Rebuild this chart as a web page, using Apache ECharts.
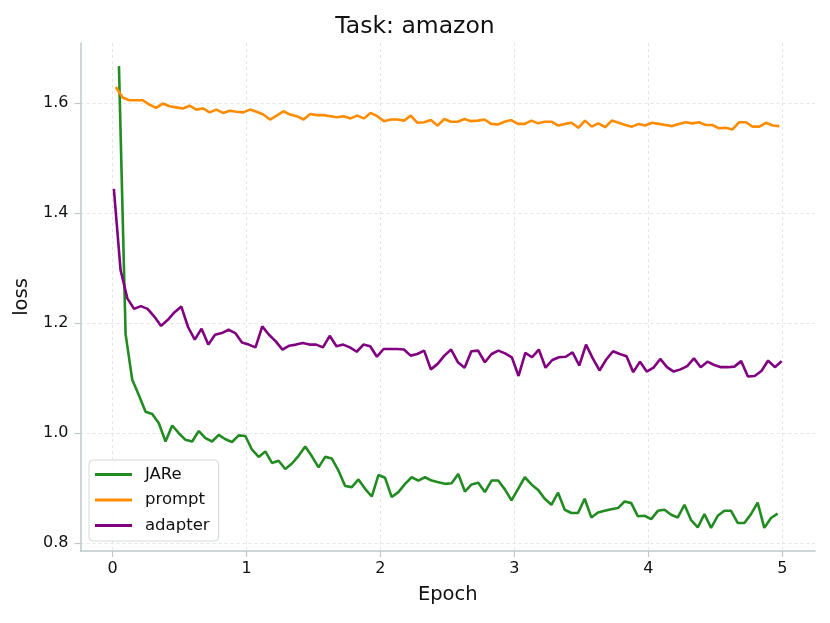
<!DOCTYPE html>
<html>
<head>
<meta charset="utf-8">
<script src="https://cdn.jsdelivr.net/npm/echarts@6/dist/echarts.min.js"></script>
<style>
html,body{margin:0;padding:0;background:#fff;}
#chart{width:830px;height:623px;}
</style>
</head>
<body>
<div id="chart"></div>
<script>
const seriesNames = ['JARe', 'prompt', 'adapter'];
const xTicks = [0, 1, 2, 3, 4, 5];
const yTicks = [0.8, 1.0, 1.2, 1.4, 1.6];

// epoch range covered by each logged series (first, last point)
const jareEpochs = [0.048, 4.965];
const promptEpochs = [0.025, 4.978];
const adapterEpochs = [0.010, 4.995];

const jareLoss = [1.667, 1.180, 1.097, 1.069, 1.039, 1.035, 1.018, 0.985, 1.014, 1.000,
  0.988, 0.985, 1.004, 0.991, 0.985, 0.997, 0.989, 0.984, 0.996, 0.995,
  0.970, 0.957, 0.967, 0.946, 0.950, 0.935, 0.945, 0.959, 0.976, 0.958,
  0.938, 0.957, 0.954, 0.932, 0.904, 0.902, 0.916, 0.899, 0.885, 0.924,
  0.919, 0.884, 0.893, 0.908, 0.920, 0.914, 0.920, 0.914, 0.911, 0.908,
  0.909, 0.926, 0.894, 0.907, 0.910, 0.893, 0.914, 0.914, 0.898, 0.878,
  0.899, 0.920, 0.907, 0.897, 0.881, 0.870, 0.892, 0.861, 0.855, 0.855,
  0.881, 0.847, 0.856, 0.859, 0.862, 0.864, 0.876, 0.873, 0.849, 0.850,
  0.844, 0.859, 0.861, 0.852, 0.847, 0.870, 0.842, 0.829, 0.853, 0.828,
  0.850, 0.859, 0.859, 0.837, 0.837, 0.853, 0.874, 0.828, 0.846, 0.854];

const promptLoss = [1.629, 1.610, 1.605, 1.605, 1.605, 1.597, 1.591, 1.599, 1.594, 1.592,
  1.590, 1.595, 1.588, 1.590, 1.583, 1.588, 1.582, 1.586, 1.584, 1.583,
  1.588, 1.584, 1.579, 1.570, 1.577, 1.585, 1.579, 1.576, 1.570, 1.580,
  1.578, 1.578, 1.576, 1.574, 1.576, 1.572, 1.577, 1.572, 1.582, 1.576,
  1.567, 1.570, 1.570, 1.568, 1.577, 1.564, 1.565, 1.569, 1.559, 1.571,
  1.566, 1.566, 1.571, 1.567, 1.568, 1.570, 1.562, 1.561, 1.566, 1.569,
  1.562, 1.562, 1.568, 1.563, 1.566, 1.566, 1.559, 1.562, 1.564, 1.555,
  1.568, 1.557, 1.563, 1.556, 1.568, 1.564, 1.560, 1.557, 1.562, 1.559,
  1.564, 1.562, 1.560, 1.558, 1.562, 1.565, 1.563, 1.565, 1.560, 1.560,
  1.554, 1.555, 1.552, 1.565, 1.565, 1.557, 1.557, 1.564, 1.559, 1.558];

const adapterLoss = [1.444, 1.296, 1.245, 1.226, 1.231, 1.226, 1.212, 1.195, 1.206, 1.220,
  1.230, 1.193, 1.170, 1.190, 1.161, 1.179, 1.182, 1.188, 1.182, 1.165,
  1.161, 1.156, 1.194, 1.179, 1.167, 1.152, 1.159, 1.161, 1.164, 1.161,
  1.161, 1.156, 1.177, 1.158, 1.161, 1.156, 1.148, 1.161, 1.158, 1.139,
  1.153, 1.153, 1.153, 1.152, 1.141, 1.144, 1.150, 1.116, 1.126, 1.141,
  1.152, 1.129, 1.119, 1.149, 1.150, 1.129, 1.144, 1.150, 1.145, 1.138,
  1.104, 1.146, 1.138, 1.152, 1.119, 1.133, 1.138, 1.139, 1.147, 1.123,
  1.161, 1.136, 1.114, 1.134, 1.149, 1.144, 1.140, 1.111, 1.130, 1.112,
  1.119, 1.135, 1.120, 1.112, 1.116, 1.122, 1.136, 1.120, 1.130, 1.124,
  1.120, 1.120, 1.121, 1.131, 1.103, 1.104, 1.113, 1.132, 1.120, 1.131];

function pairs(range, values) {
  const n = values.length;
  const step = (range[1] - range[0]) / (n - 1);
  return values.map((v, i) => [range[0] + i * step, v]);
}

const colors = ['#228b22', '#ff8c00', '#800080'];
const FONT = 'DejaVu Sans';
const spine = '#bfc7cb';
const gridColor = '#e1e6e8';

const chart = echarts.init(document.getElementById('chart'), null, {renderer: 'canvas'});
chart.setOption({
  animation: false,
  backgroundColor: '#ffffff',
  title: {
    text: 'Task: amazon',
    left: 'center',
    top: 10,
    textStyle: {fontFamily: FONT, fontSize: 23.5, fontWeight: 'normal', color: '#111'}
  },
  grid: {left: 80.5, right: 15, top: 43, bottom: 72, containLabel: false},
  legend: {
    orient: 'vertical',
    left: 89,
    top: 460,
    data: seriesNames,
    icon: 'rect',
    itemWidth: 37,
    itemHeight: 3,
    itemGap: 6.5,
    padding: [5, 9, 6, 6],
    backgroundColor: 'rgba(255,255,255,0.85)',
    borderColor: '#d4d8da',
    borderWidth: 1,
    borderRadius: 4,
    textStyle: {fontFamily: FONT, fontSize: 16.5, color: '#111', padding: [0, 0, 0, 8], lineHeight: 19}
  },
  xAxis: {
    type: 'value',
    min: -0.239,
    max: 5.244,
    name: 'Epoch',
    nameLocation: 'middle',
    nameGap: 34,
    nameTextStyle: {fontFamily: FONT, fontSize: 19.5, color: '#111'},
    axisLine: {show: true, onZero: false, lineStyle: {color: spine, width: 1.5}},
    axisTick: {show: true, length: 6, customValues: xTicks, lineStyle: {color: spine, width: 1.2}},
    axisLabel: {customValues: xTicks, margin: 10, fontFamily: FONT, fontSize: 16, color: '#111',
      formatter: v => String(v)},
    splitLine: {show: true, customValues: xTicks, lineStyle: {color: gridColor, type: [3, 3], width: 1}}
  },
  yAxis: {
    type: 'value',
    min: 0.786,
    max: 1.709,
    name: 'loss',
    nameLocation: 'middle',
    nameRotate: 90,
    nameGap: 45,
    nameTextStyle: {fontFamily: FONT, fontSize: 19.5, color: '#111'},
    axisLine: {show: true, onZero: false, lineStyle: {color: spine, width: 1.5}},
    axisTick: {show: true, length: 6, customValues: yTicks, lineStyle: {color: spine, width: 1.2}},
    axisLabel: {customValues: yTicks, margin: 12, fontFamily: FONT, fontSize: 16, color: '#111',
      formatter: v => v.toFixed(1)},
    splitLine: {show: true, customValues: yTicks, lineStyle: {color: gridColor, type: [3, 3], width: 1}}
  },
  series: [
    {name: seriesNames[0], type: 'line', data: pairs(jareEpochs, jareLoss), showSymbol: false,
      lineStyle: {width: 2.6, color: colors[0]}, itemStyle: {color: colors[0]}},
    {name: seriesNames[1], type: 'line', data: pairs(promptEpochs, promptLoss), showSymbol: false,
      lineStyle: {width: 2.6, color: colors[1]}, itemStyle: {color: colors[1]}},
    {name: seriesNames[2], type: 'line', data: pairs(adapterEpochs, adapterLoss), showSymbol: false,
      lineStyle: {width: 2.6, color: colors[2]}, itemStyle: {color: colors[2]}}
  ]
});
</script>
</body>
</html>
